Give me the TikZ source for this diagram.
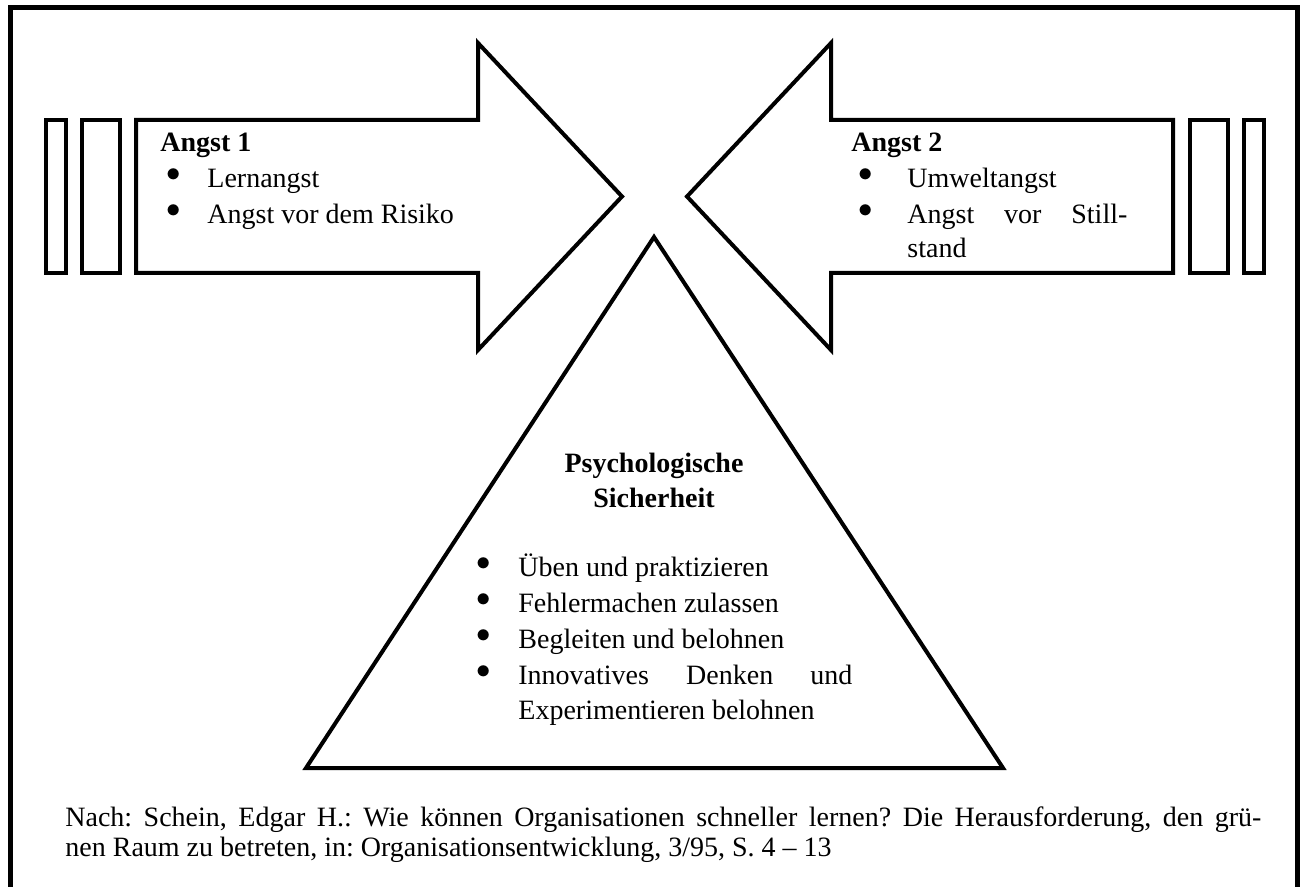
\documentclass[tikz,border=0pt]{standalone}
\usepackage{fontspec}
\setmainfont{Liberation Serif}
\usetikzlibrary{%
  positioning% wg. " of "
}
\newcommand{\punkt}[1]{\makebox[#1][l]{\raisebox{3pt}{$\bullet$}}}
\tikzset{
  umriss/.style={draw, line width=2pt, line join=miter},
  txt/.style={inner sep=0, anchor=base west, font=\fontsize{14}{17}\selectfont\frenchspacing},
}

\begin{document}
\begin{tikzpicture}[x=0.5pt,y=-0.5pt]
      \path [use as bounding box, fill=white] (0,0) rectangle (1305,887);
      \path [draw, line width=2.5pt] (10,7.5) rectangle (1297.5,920);

      % Pfeil links
      \path [umriss] (136,120) -- (478,120) -- (478,43) -- (622,196.5) -- (478,350) -- (478,273) -- (136,273) -- cycle;
      \path [umriss] (46,120) rectangle (66,273);
      \path [umriss] (82,120) rectangle (120,273);

      % Pfeil rechts
      \path [umriss] (1173,120) -- (831,120) -- (831,43) -- (687,196.5) -- (831,350) -- (831,273) -- (1173,273) -- cycle;
      \path [umriss] (1190,120) rectangle (1228,273);
      \path [umriss] (1244,120) rectangle (1264,273);

      % Dreieck
      \path [umriss] (654,237) -- (1003,768) -- (306,768) -- cycle;

      \node[txt] (a1) at (160,152) {\textbf{Angst 1}};
      \node[txt] (a1p1) at (166,188) {\punkt{20.5pt}Lernangst};
      \node[txt] (a1p2) at (166,224) {\punkt{20.5pt}Angst vor dem Risiko};

      \node[txt] (a2) at (851,152) {\textbf{Angst 2}};
      \node[txt] (a2p1) at (858,188) {\punkt{24.5pt}Umweltangst};
      \node[txt] (a2p2) at (858,224) {\punkt{24.5pt}\makebox[110pt][s]{Angst vor Still-}};
      \node[txt] (a2p3) at (907,258) {stand};

      \node[txt, anchor=base] (ps1) at (654,472) {\textbf{Psychologische}};
      \node[txt, anchor=base] (ps2) at (654,507) {\textbf{Sicherheit}};
      \node[txt] (ps1p1) at (476,576) {\punkt{21pt}Üben und praktizieren};
      \node[txt] (ps1p2) at (476,612) {\punkt{21pt}Fehlermachen zulassen};
      \node[txt] (ps1p3) at (476,648) {\punkt{21pt}Begleiten und belohnen};
      \node[txt] (ps1p4) at (476,684) {\punkt{21pt}\makebox[167pt][s]{Innovatives Denken und}};
      \node[txt] (ps1p5) at (518,719) {Experimentieren belohnen};

      \node[txt] (quelle1) at (65,826) {\makebox[598pt][s]{Nach: Schein, Edgar H.: Wie können Organisationen schneller lernen? Die Herausforderung, den grü-}};
      \node[txt] (quelle2) at (65,856) {nen Raum zu betreten, in: Organisationsentwicklung, 3/95, S. 4 -- 13};
    \end{tikzpicture}
\end{document}
